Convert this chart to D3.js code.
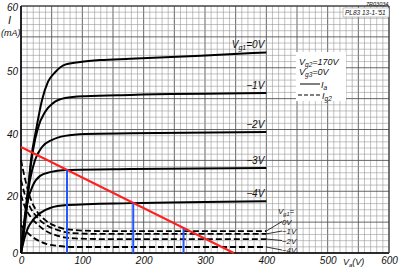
<!DOCTYPE html>
<html><head><meta charset="utf-8">
<script src="https://cdn.jsdelivr.net/npm/d3@7"></script>
<style>
body{margin:0;background:#fff;}
svg{display:block;}
text{font-family:"Liberation Sans",Arial,sans-serif;font-style:italic;fill:#111;}
</style></head>
<body>
<svg id="c" width="400" height="268"></svg>
<script>
// ---- data (Va in V, I in mA) ----
const iaLabels = ["Vg1=0V","−1V","−2V","−3V","−4V"];
const ia0V_v = [0, 8.2, 16.3, 24.5, 34.3, 44.1, 55.6, 72, 96.5, 129, 178, 293, 400];
const ia0V_i = [0, 13.3, 31.6, 40.6, 45.4, 48.3, 49.8, 51.0, 51.4, 51.7, 51.9, 52.4, 52.9];
const ia1V_v = [0, 6.5, 13.1, 19.6, 27.8, 39.2, 52.3, 71.9, 104.6, 178.2, 400];
const ia1V_i = [0, 11.6, 25.2, 34.8, 41.0, 43.5, 44.9, 45.7, 46.0, 46.2, 46.5];
const ia2V_v = [0, 6.5, 14.7, 22.9, 34.3, 50.7, 71.9, 104.6, 178.2, 400];
const ia2V_i = [0, 13.3, 25.2, 31.6, 35.8, 38.1, 39.4, 40.0, 40.1, 40.3];
const ia3V_v = [0, 4.9, 11.4, 19.6, 31.1, 47.4, 71.9, 178.2, 400];
const ia3V_i = [0, 9.8, 18.6, 23.5, 26.5, 27.7, 28.4, 28.7, 29.0];
const ia4V_v = [0, 4.9, 11.4, 19.6, 31.1, 47.4, 75.2, 178.2, 400];
const ia4V_i = [0, 4.6, 8.8, 11.6, 14.0, 15.8, 16.8, 17.5, 18.2];

const ig2Labels = ["0V","−1V","−2V","−4V"];
const ig0V_v = [0, 6.5, 14.7, 24.5, 39.2, 55.6, 80.1, 129.2, 400];
const ig0V_i = [31.6, 25.6, 19.6, 15.1, 11.6, 9.5, 8.2, 7.7, 7.7];
const ig1V_v = [0, 6.5, 14.7, 26.2, 40.9, 58.9, 83.4, 129.2, 400];
const ig1V_i = [25.2, 20.3, 16.1, 12.6, 9.8, 8.1, 7.0, 6.7, 6.7];
const ig2V_v = [0, 6.5, 14.7, 26.2, 40.9, 60.5, 88.3, 129.2, 400];
const ig2V_i = [20.3, 16.1, 13.0, 10.2, 7.7, 6.0, 5.1, 4.9, 4.9];
const ig4V_v = [0, 6.5, 14.7, 26.2, 40.9, 60.5, 88.3, 400];
const ig4V_i = [9.8, 8.1, 6.3, 4.6, 3.2, 2.5, 2.1, 2.1];

const loadV = [0, 347];
const loadI = [35.8, 0];
const markV = [75, 183, 265];
const markI = [28.4, 17.4, 8.5];

const xTicks = [0, 100, 200, 300, 400, 500, 600];
const yTicks = [0, 20, 40, 50, 60];

// ---- scales ----
const svg = d3.select("#c");
const x = d3.scaleLinear().domain([0, 600]).range([21, 389]);
const y = d3.scaleLinear().domain([0, 20, 40, 50, 60]).range([253, 196, 134, 71, 7]);
const gy = d3.scaleLinear().domain([0, 40]).range([253, 6]);
const yTop = gy(40), yBot = gy(0);

// grid
const g = svg.append("g");
d3.range(0, 601, 10).forEach(v => {
  const major = v % 50 === 0;
  g.append("line").attr("x1", x(v)).attr("x2", x(v)).attr("y1", yTop).attr("y2", yBot)
    .attr("stroke", major ? "#555" : "#999").attr("stroke-width", major ? 0.9 : 0.6);
});
d3.range(0, 41).forEach(k => {
  const major = k % 5 === 0;
  g.append("line").attr("x1", x(0)).attr("x2", x(600)).attr("y1", gy(k)).attr("y2", gy(k))
    .attr("stroke", major ? "#555" : "#999").attr("stroke-width", major ? 0.9 : 0.6);
});
// frame
svg.append("line").attr("x1", x(0)).attr("x2", x(0)).attr("y1", yTop).attr("y2", yBot).attr("stroke", "#000").attr("stroke-width", 1.6);
svg.append("line").attr("x1", x(0)).attr("x2", x(600)).attr("y1", yBot).attr("y2", yBot).attr("stroke", "#000").attr("stroke-width", 1.6);
svg.append("line").attr("x1", x(0)).attr("x2", x(600)).attr("y1", yTop).attr("y2", yTop).attr("stroke", "#333").attr("stroke-width", 1);
svg.append("line").attr("x1", x(600)).attr("x2", x(600)).attr("y1", yTop).attr("y2", yBot).attr("stroke", "#333").attr("stroke-width", 1);

// axes
const ax = svg.append("g").attr("transform", `translate(0,${yBot})`)
  .call(d3.axisBottom(x).tickValues(xTicks).tickSize(0).tickPadding(4));
ax.select(".domain").remove();
ax.selectAll("text").attr("font-size", 10).style("font-style", "italic").attr("font-family", "Liberation Sans");
const ay = svg.append("g").attr("transform", `translate(${x(0)},0)`)
  .call(d3.axisLeft(y).tickValues(yTicks).tickSize(0).tickPadding(3));
ay.select(".domain").remove();
ay.selectAll("text").attr("font-size", 10).style("font-style", "italic").attr("font-family", "Liberation Sans");

svg.append("text").attr("x", 8).attr("y", 24).attr("font-size", 11).text("I");
svg.append("text").attr("x", 1).attr("y", 36).attr("font-size", 9).text("(mA)");
const va = svg.append("text").attr("x", 343).attr("y", 265).attr("font-size", 9);
va.append("tspan").text("V");
va.append("tspan").attr("font-size", 6).attr("dy", 2).text("a");
va.append("tspan").attr("dy", -2).text("(V)");

// curves
const line = d3.line().curve(d3.curveMonotoneX);
const mk = (vs, is) => vs.map((v, k) => [x(v), y(is[k])]);
const iaSeries = [[ia0V_v, ia0V_i], [ia1V_v, ia1V_i], [ia2V_v, ia2V_i], [ia3V_v, ia3V_i], [ia4V_v, ia4V_i]];
const igSeries = [[ig0V_v, ig0V_i], [ig1V_v, ig1V_i], [ig2V_v, ig2V_i], [ig4V_v, ig4V_i]];
iaSeries.forEach(s => svg.append("path").attr("d", line(mk(s[0], s[1])))
  .attr("fill", "none").attr("stroke", "#000").attr("stroke-width", 2));
igSeries.forEach(s => svg.append("path").attr("d", line(mk(s[0], s[1])))
  .attr("fill", "none").attr("stroke", "#000").attr("stroke-width", 1.8).attr("stroke-dasharray", "6,3"));

// Ia labels
iaSeries.forEach((s, k) => {
  const vEnd = s[0][s[0].length - 1], iEnd = s[1][s[1].length - 1];
  const t = svg.append("text").attr("x", x(vEnd) - 2).attr("y", y(iEnd) - 4)
    .attr("text-anchor", "end").attr("font-size", 10);
  if (k === 0) {
    t.append("tspan").text("V");
    t.append("tspan").attr("font-size", 7).attr("dy", 2).text("g1");
    t.append("tspan").attr("dy", -2).text("=0V");
  } else t.text(iaLabels[k]);
});
// Ig2 labels with leaders
const lblX = 282;
const lblY = [224.5, 234, 243.5, 253];
svg.append("text").attr("x", 278).attr("y", 214).attr("font-size", 8)
  .call(t => { t.append("tspan").text("V"); t.append("tspan").attr("font-size", 5.5).attr("dy", 1.5).text("g1"); t.append("tspan").attr("dy", -1.5).text("="); });
igSeries.forEach((s, k) => {
  const vEnd = s[0][s[0].length - 1], iEnd = s[1][s[1].length - 1];
  svg.append("line").attr("x1", x(vEnd)).attr("y1", y(iEnd)).attr("x2", lblX).attr("y2", lblY[k] - 3)
    .attr("stroke", "#000").attr("stroke-width", 0.8);
  svg.append("text").attr("x", lblX).attr("y", lblY[k]).attr("font-size", 7.8).text(ig2Labels[k]);
});

// load line and markers
svg.append("path").attr("d", d3.line()(mk(loadV, loadI)))
  .attr("stroke", "#ff2020").attr("stroke-width", 2).attr("fill", "none");
markV.forEach((v, k) => svg.append("line").attr("x1", x(v)).attr("x2", x(v))
  .attr("y1", y(0)).attr("y2", y(markI[k])).attr("stroke", "#2458ff").attr("stroke-width", 2));

// legend
svg.append("rect").attr("x", 296).attr("y", 52).attr("width", 50).attr("height", 49).attr("fill", "#fff");
const lg = (yy, main, sub, rest) => {
  const t = svg.append("text").attr("x", 299).attr("y", yy).attr("font-size", 9);
  t.append("tspan").text(main);
  t.append("tspan").attr("font-size", 6.5).attr("dy", 1.5).text(sub);
  t.append("tspan").attr("dy", -1.5).text(rest);
};
lg(65, "V", "g2", "=170V");
lg(75, "V", "g3", "=0V");
svg.append("line").attr("x1", 300).attr("x2", 320).attr("y1", 84).attr("y2", 84).attr("stroke", "#000").attr("stroke-width", 1);
svg.append("text").attr("x", 321).attr("y", 88).attr("font-size", 9)
  .call(t => { t.append("tspan").text("I"); t.append("tspan").attr("font-size", 6.5).attr("dy", 1.5).text("a"); });
svg.append("line").attr("x1", 298).attr("x2", 322).attr("y1", 95).attr("y2", 95).attr("stroke", "#000").attr("stroke-width", 1).attr("stroke-dasharray", "4,2");
svg.append("text").attr("x", 322).attr("y", 99).attr("font-size", 9)
  .call(t => { t.append("tspan").text("I"); t.append("tspan").attr("font-size", 6.5).attr("dy", 1.5).text("g2"); });

// header
svg.append("rect").attr("x", 343).attr("y", 8).attr("width", 46).attr("height", 9).attr("fill", "#fff").attr("stroke", "#888").attr("stroke-width", 0.5);
svg.append("text").attr("x", 345).attr("y", 15).attr("font-size", 6.5).text("PL83  13-1-'51");
svg.append("text").attr("x", 366).attr("y", 6).attr("font-size", 5.5).text("7R03034");
</script>
</body></html>
